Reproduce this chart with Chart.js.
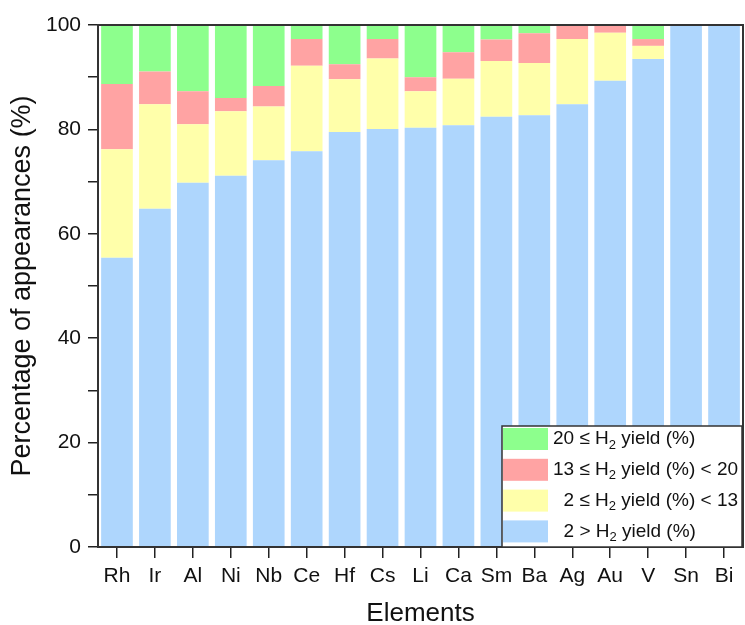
<!DOCTYPE html>
<html>
<head>
<meta charset="utf-8">
<script src="https://cdn.jsdelivr.net/npm/chart.js@4"></script>
<style>
  html, body { margin: 0; padding: 0; background: #fff; }
  #wrap { width: 745px; height: 625px; }
</style>
</head>
<body>
<div id="wrap"><canvas id="c" width="745" height="625"></canvas></div>
<script>
// du lieu doc tu hinh
const elements = ['Rh', 'Ir', 'Al', 'Ni', 'Nb', 'Ce', 'Hf', 'Cs', 'Li', 'Ca', 'Sm', 'Ba', 'Ag', 'Au', 'V', 'Sn', 'Bi'];
const below2   = [55.4, 64.8, 69.8, 71.1, 74.1, 75.8, 79.5, 80.1, 80.3, 80.8, 82.4, 82.7, 84.8, 89.3, 93.5, 100, 100];
const from2to13  = [20.8, 20.0, 11.2, 12.4, 10.3, 16.4, 10.1, 13.5, 7.0, 8.9, 10.7, 10.0, 12.5, 9.2, 2.5, 0, 0];
const from13to20 = [12.5, 6.3, 6.3, 2.5, 3.9, 5.1, 2.9, 3.7, 2.7, 5.1, 4.1, 5.7, 2.7, 1.5, 1.3, 0, 0];
const above20  = [11.3, 8.9, 12.7, 14.0, 11.7, 2.7, 7.5, 2.7, 10.0, 5.2, 2.8, 1.6, 0, 0, 2.7, 0, 0];
const yTicks = [0, 20, 40, 60, 80, 100];

// nhan chu thich: [truoc chi so, chi so duoi, sau chi so]
const legendLabels = [
  ['20 \u2264 H', '2', ' yield (%)'],
  ['13 \u2264 H', '2', ' yield (%) < 20'],
  ['2 \u2264 H', '2', ' yield (%) < 13'],
  ['2 > H', '2', ' yield (%)']
];
const colors = ['#AED6FD', '#FFFFAA', '#FFA3A3', '#8DFF8D'];

const FONT = 'Liberation Sans, Arial, sans-serif';

const frameAndLegend = {
  id: 'frameAndLegend',
  afterDraw(chart) {
    const ctx = chart.ctx;
    const a = chart.chartArea;
    ctx.save();
    // khung
    ctx.strokeStyle = '#333';
    ctx.lineWidth = 2;
    ctx.strokeRect(a.left, a.top, a.right - a.left, a.bottom - a.top);

    // chu thich
    const w = 240, h = 121;
    const bx = a.right - 1 - w, by = a.bottom - h;
    ctx.fillStyle = '#fff';
    ctx.fillRect(bx, by, w, h);
    ctx.strokeStyle = '#333';
    ctx.lineWidth = 1.5;
    ctx.strokeRect(bx, by, w, h);

    const ds = chart.data.datasets.slice().reverse();
    ctx.font = '19px ' + FONT;
    const digitW = ctx.measureText('0').width;
    ds.forEach((d, i) => {
      const cy = by + 13 + i * 30.8;
      ctx.fillStyle = d.backgroundColor;
      ctx.fillRect(bx + 1, cy - 11, 45, 22);
      const parts = legendLabels[i];
      let x = bx + 51;
      if (/^\d\s/.test(parts[0])) x += digitW;
      ctx.fillStyle = '#111';
      ctx.textBaseline = 'middle';
      ctx.textAlign = 'left';
      ctx.font = '19px ' + FONT;
      ctx.fillText(parts[0], x, cy);
      x += ctx.measureText(parts[0]).width;
      ctx.font = '13px ' + FONT;
      ctx.fillText(parts[1], x, cy + 6);
      x += ctx.measureText(parts[1]).width;
      ctx.font = '19px ' + FONT;
      ctx.fillText(parts[2], x, cy);
    });
    ctx.restore();
  }
};

const mk = (label, data, color) => ({
  label: label,
  data: data,
  backgroundColor: color,
  borderWidth: 0,
  barPercentage: 0.835,
  categoryPercentage: 1.0
});

new Chart(document.getElementById('c').getContext('2d'), {
  type: 'bar',
  data: {
    labels: elements,
    datasets: [
      mk('2 > H2 yield (%)', below2, colors[0]),
      mk('2 <= H2 yield (%) < 13', from2to13, colors[1]),
      mk('13 <= H2 yield (%) < 20', from13to20, colors[2]),
      mk('20 <= H2 yield (%)', above20, colors[3])
    ]
  },
  options: {
    responsive: false,
    animation: false,
    layout: { padding: { top: 25, right: 2, left: 0, bottom: 0 } },
    plugins: {
      legend: { display: false },
      tooltip: { enabled: false }
    },
    scales: {
      x: {
        stacked: true,
        afterFit: s => { s.height = 78; },
        grid: { display: true, drawOnChartArea: false, offset: false, tickLength: 11, color: '#222', lineWidth: 1.5 },
        border: { display: true, color: '#222', width: 2 },
        ticks: { color: '#111', font: { family: FONT, size: 21 }, padding: 6, maxRotation: 0, autoSkip: false },
        title: { display: true, text: 'Elements', color: '#111', font: { family: FONT, size: 26, lineHeight: 0.85 }, padding: { top: 0, bottom: 0 } }
      },
      y: {
        stacked: true,
        min: 0,
        max: 100,
        afterFit: s => { s.width = 98; },
        grid: { display: true, drawOnChartArea: false, tickLength: 10, color: '#222', lineWidth: 1.5 },
        border: { display: true, color: '#222', width: 2 },
        ticks: {
          stepSize: 10,
          color: '#111',
          font: { family: FONT, size: 21 },
          padding: 7,
          callback: v => (yTicks.includes(v) ? v : '')
        },
        title: { display: true, text: 'Percentage of appearances (%)', color: '#111', font: { family: FONT, size: 27, lineHeight: 1 }, padding: { top: 9, bottom: 0 } }
      }
    }
  },
  plugins: [frameAndLegend]
});
</script>
</body>
</html>
